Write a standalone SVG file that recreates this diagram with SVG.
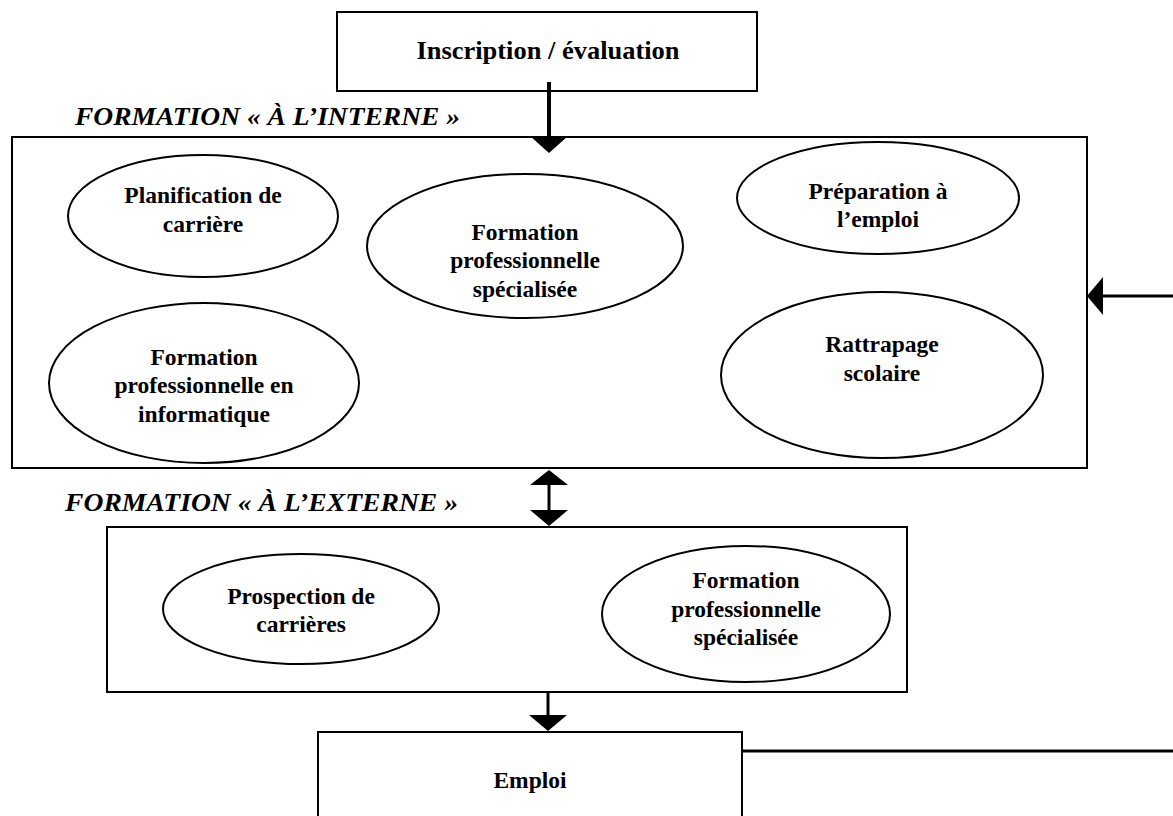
<svg xmlns="http://www.w3.org/2000/svg" width="1173" height="816" viewBox="0 0 1173 816">
<style>
.box{fill:#fff;stroke:#000;stroke-width:2}
.ell{fill:#fff;stroke:#000;stroke-width:2}
.t{font-family:"Liberation Serif","Times New Roman",serif;font-weight:bold;font-size:23.5px;text-anchor:middle;fill:#000}
.big{font-size:25px}
.lab{font-family:"Liberation Serif","Times New Roman",serif;font-weight:bold;font-style:italic;font-size:25px;fill:#000}
.ln{stroke:#000;fill:none}
</style>
<rect width="1173" height="816" fill="#fff"/>
<g id="inscription">
<rect class="box" x="337" y="12" width="420" height="79"/>
<text class="t big" x="548" y="59" textLength="263" lengthAdjust="spacingAndGlyphs">Inscription / évaluation</text>
</g>
<g id="interne">
<text class="lab" x="75" y="125" textLength="385" lengthAdjust="spacingAndGlyphs">FORMATION « À L’INTERNE »</text>
<rect class="box" x="12" y="137" width="1075" height="331"/>
</g>
<g id="planification">
<ellipse class="ell" cx="203" cy="216" rx="135" ry="61"/>
<text class="t" x="203" y="203">Planification de</text>
<text class="t" x="203" y="232">carrière</text>
</g>
<g id="fp-specialisee-int">
<ellipse class="ell" cx="525" cy="246" rx="158" ry="72"/>
<text class="t" x="525" y="240">Formation</text>
<text class="t" x="525" y="268">professionnelle</text>
<text class="t" x="525" y="297">spécialisée</text>
</g>
<g id="preparation">
<ellipse class="ell" cx="878" cy="198" rx="141" ry="56"/>
<text class="t" x="878" y="199">Préparation à</text>
<text class="t" x="878" y="227">l’emploi</text>
</g>
<g id="fp-informatique">
<ellipse class="ell" cx="204" cy="383" rx="155" ry="80"/>
<text class="t" x="204" y="365">Formation</text>
<text class="t" x="204" y="393">professionnelle en</text>
<text class="t" x="204" y="422">informatique</text>
</g>
<g id="rattrapage">
<ellipse class="ell" cx="882" cy="375" rx="161" ry="83"/>
<text class="t" x="882" y="352">Rattrapage</text>
<text class="t" x="882" y="381">scolaire</text>
</g>
<g id="externe">
<text class="lab" x="65" y="511" textLength="393" lengthAdjust="spacingAndGlyphs">FORMATION « À L’EXTERNE »</text>
<rect class="box" x="107" y="527" width="800" height="165"/>
</g>
<g id="prospection">
<ellipse class="ell" cx="301" cy="609" rx="138" ry="55"/>
<text class="t" x="301" y="604">Prospection de</text>
<text class="t" x="301" y="632">carrières</text>
</g>
<g id="fp-specialisee-ext">
<ellipse class="ell" cx="746" cy="614" rx="144" ry="68"/>
<text class="t" x="746" y="588">Formation</text>
<text class="t" x="746" y="617">professionnelle</text>
<text class="t" x="746" y="645">spécialisée</text>
</g>
<g id="emploi">
<rect class="box" x="318" y="732" width="424" height="100"/>
<text class="t" x="530" y="788">Emploi</text>
</g>
<g id="connectors">
<line class="ln" x1="549" y1="82" x2="549" y2="140" stroke-width="4"/>
<polygon points="530,136 568,136 549,153"/>
<line class="ln" x1="1100" y1="296" x2="1173" y2="296" stroke-width="3"/>
<polygon points="1087,296 1103,277 1103,315"/>
<line class="ln" x1="549" y1="480" x2="549" y2="515" stroke-width="3"/>
<polygon points="549,470 530,485 568,485"/>
<polygon points="530,510 568,510 549,526"/>
<line class="ln" x1="548" y1="693" x2="548" y2="717" stroke-width="3"/>
<polygon points="529,715 567,715 548,731"/>
<line class="ln" x1="742" y1="751" x2="1173" y2="751" stroke-width="3"/>
</g>
</svg>
